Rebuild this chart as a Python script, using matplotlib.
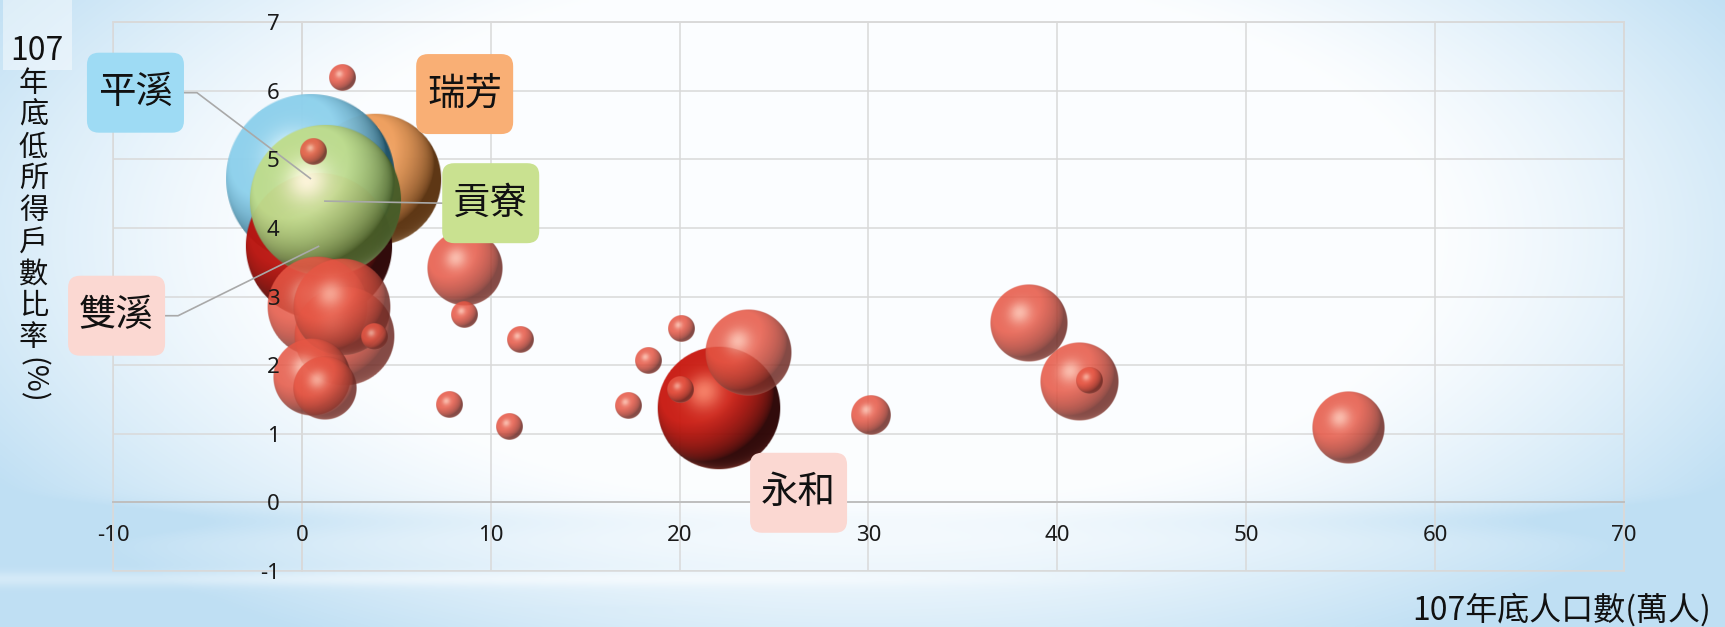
import numpy as np
import matplotlib
matplotlib.use('Agg')
import matplotlib.pyplot as plt
from matplotlib.patches import FancyBboxPatch, Rectangle

plt.rcParams['font.family'] = ['Noto Sans CJK TC', 'DejaVu Sans']
plt.rcParams['axes.unicode_minus'] = False

# ---------------- data ----------------
# highlighted districts (labelled bubbles)
hl_names = ['永和', '瑞芳', '平溪', '雙溪', '貢寮']
hl_pop = [22.06, 3.9, 0.45, 0.88, 1.22]          # 107年底人口數(萬人)
hl_ratio = [1.37, 4.70, 4.72, 3.73, 4.39]        # 低所得戶數比率(%)
hl_size = [38.4, 43.6, 73.1, 54.2, 57.8]         # bubble size

# other districts
other_pop = [2.24, 2.15, 0.53, 0.85, 1.22, 8.62, 23.64, 30.14, 38.5, 41.18, 55.4,
             2.17, 0.63, 3.86, 8.62, 11.57, 7.83, 11.0, 20.09, 18.36, 17.28, 20.03, 41.72]
other_ratio = [2.42, 2.85, 1.83, 2.86, 1.66, 3.41, 2.18, 1.28, 2.61, 1.755, 1.08,
               6.19, 5.11, 2.42, 2.73, 2.37, 1.43, 1.10, 2.53, 2.07, 1.41, 1.64, 1.77]
other_size = [25.0, 24.0, 15.2, 25.5, 10.2, 14.4, 18.5, 4.0, 15.2, 15.6, 13.0,
              1.8, 1.8, 1.8, 1.8, 1.8, 1.8, 1.8, 1.8, 1.8, 1.8, 1.8, 1.8]

x_ticks = [-10, 0, 10, 20, 30, 40, 50, 60, 70]
y_ticks = [-1, 0, 1, 2, 3, 4, 5, 6, 7]
x_title = '107年底人口數(萬人)'
y_title_num = '107'
y_title_chars = '年底低所得戶數比率'
y_title_unit = '(%)'

# ---------------- styles ----------------
hl_style = {
    '永和': dict(base=(200, 24, 15), dark=(40, 0, 0), light=(245, 120, 95), alpha=0.96),
    '瑞芳': dict(base=(238, 158, 92), dark=(90, 50, 15), light=(255, 222, 185), alpha=0.98),
    '平溪': dict(base=(140, 208, 236), dark=(25, 80, 105), light=(235, 250, 255), alpha=0.96),
    '雙溪': dict(base=(185, 18, 12), dark=(40, 0, 0), light=(240, 110, 90), alpha=0.96),
    '貢寮': dict(base=(190, 220, 140), dark=(70, 92, 40), light=(255, 252, 225), alpha=0.97),
}
other_style = dict(base=(230, 86, 68), dark=(112, 44, 38), light=(250, 176, 158), alpha=0.86)

box_color = {'永和': '#FBD8D2', '瑞芳': '#F9AF75', '平溪': '#9EDBF4',
             '雙溪': '#FBD8D2', '貢寮': '#C9E190'}
box_center = {'永和': (26.3, 0.14), '瑞芳': (8.62, 5.95), '平溪': (-8.81, 5.97),
              '雙溪': (-9.81, 2.72), '貢寮': (10.0, 4.36)}
grid_color = '#d9d9d9'

DPI = 100
fig = plt.figure(figsize=(17.25, 6.27), dpi=DPI)

# ---------------- background ----------------
bgax = fig.add_axes([0, 0, 1, 1], zorder=-10)
bgax.axis('off')
H, W = 314, 863
Y, X = np.mgrid[0:1:H * 1j, 0:1:W * 1j]
d = np.sqrt(((X - 0.5) / 0.56) ** 2 + ((Y - 0.38) / 0.72) ** 2)
inten = np.clip((d - 0.6) / 0.45, 0, 1) ** 1.2
edge = np.abs(X - 0.52) * 2
band = np.exp(-((Y - 0.83) / 0.025) ** 2) * (0.15 + 0.6 * edge ** 2)
bottom = np.clip((Y - 0.91) / 0.06, 0, 1) * (0.35 + 0.6 * edge)
streak = np.exp(-((Y - 0.925) / 0.012) ** 2) * np.clip((0.7 - X) / 0.5, 0, 1) * 0.35
inten = np.clip(np.maximum(inten, bottom) + band * 0.6 - streak, 0, 1)
white = np.array([0.985, 0.993, 1.0])
blue = np.array([0.75, 0.875, 0.955])
bg = white * (1 - inten[..., None]) + blue * inten[..., None]
bgax.imshow(bg, extent=(0, 1, 0, 1), aspect='auto', origin='upper', interpolation='bilinear')
bgax.set_xlim(0, 1)
bgax.set_ylim(0, 1)

# ---------------- main axes ----------------
ax = fig.add_axes([0.0655, 0.0893, 0.8759, 0.8756])
ax.set_facecolor('none')
ax.set_xlim(x_ticks[0], x_ticks[-1])
ax.set_ylim(y_ticks[0], y_ticks[-1])
ax.set_xticks(x_ticks)
ax.set_yticks(y_ticks)
for t in x_ticks:
    ax.axvline(t, color=grid_color, lw=1.1, zorder=0.3)
for t in y_ticks:
    ax.axhline(t, color=grid_color, lw=1.1, zorder=0.3)
for s in ['top', 'right', 'left']:
    ax.spines[s].set_color(grid_color)
    ax.spines[s].set_linewidth(1.1)
    ax.spines[s].set_zorder(0.4)
ax.spines['left'].set_position(('data', 0))
ax.spines['bottom'].set_position(('data', 0))
ax.spines['bottom'].set_color('#bfbfbf')
ax.spines['bottom'].set_linewidth(1.4)
ax.spines['bottom'].set_zorder(0.45)
ax.add_patch(Rectangle((0, 0), 1, 1, transform=ax.transAxes, fill=False,
                       ec=grid_color, lw=1.1, clip_on=False, zorder=0.4))
ax.tick_params(length=0, labelsize=16, colors='#1a1a1a', pad=16)
for lbl in ax.get_xticklabels() + ax.get_yticklabels():
    lbl.set_fontfamily(['Noto Sans', 'DejaVu Sans'])
ax.xaxis.set_zorder(40)
ax.yaxis.set_zorder(40)

# pixel scale of data units
p0 = ax.transData.transform((0, 0))
sx = ax.transData.transform((1, 0))[0] - p0[0]
sy = ax.transData.transform((0, 1))[1] - p0[1]


def sphere_img(base, dark, light, alpha, n=161):
    lin = np.linspace(-1, 1, n)
    u, v = np.meshgrid(lin, -lin)
    rr = np.sqrt(u * u + v * v)
    z = np.sqrt(np.clip(1 - rr * rr, 0, 1))
    L = np.array([-0.45, 0.5, 0.74]); L /= np.linalg.norm(L)
    ndl = np.clip(u * L[0] + v * L[1] + z * L[2], 0, 1)
    Hh = L + np.array([0, 0, 1.0]); Hh /= np.linalg.norm(Hh)
    ndh = np.clip(u * Hh[0] + v * Hh[1] + z * Hh[2], 0, 1)
    base, dark, light = [np.array(c) / 255.0 for c in (base, dark, light)]
    t = np.clip(ndl ** 0.7 / 0.8, 0, 1)
    col = dark + (base - dark) * t[..., None]
    spec = np.clip(ndh ** 25 * 0.85 + ndh ** 8 * 0.15, 0, 1)
    col = col + (light - col) * spec[..., None]
    rim = np.clip(-v, 0, 1) ** 2 * (1 - z) ** 3 * 0.5
    col = col + (light - col) * rim[..., None]
    a = alpha * np.clip((1 - rr) * n / 2.0, 0, 1)
    return np.dstack([np.clip(col, 0, 1), a])


def draw_bubble(x, y, size, style, z):
    r = 10 * np.sqrt(size)  # radius in pixels
    rx, ry = r / sx, r / sy
    ax.imshow(sphere_img(**style), extent=(x - rx, x + rx, y - ry, y + ry),
              origin='upper', interpolation='bilinear', aspect='auto', zorder=z)


zc = 1.0
for name, x, y, s in zip(hl_names, hl_pop, hl_ratio, hl_size):
    draw_bubble(x, y, s, hl_style[name], zc)
    zc += 0.1
order = np.argsort(other_size, kind='stable')[::-1]
for i in order:
    draw_bubble(other_pop[i], other_ratio[i], other_size[i], other_style, zc)
    zc += 0.01

ax.set_xlim(x_ticks[0], x_ticks[-1])
ax.set_ylim(y_ticks[0], y_ticks[-1])

# ---------------- labels & leader lines ----------------
bw, bh, brad = 97 / sx, 80 / sy, 12
for name in hl_names:
    cx, cy = box_center[name]
    patch = FancyBboxPatch((cx - bw / 2, cy - bh / 2), bw, bh,
                           boxstyle=f'round,pad=0,rounding_size={brad / sx}',
                           mutation_aspect=sx / sy, fc=box_color[name], ec='none',
                           zorder=30, clip_on=False)
    ax.add_patch(patch)
    ax.text(cx, cy, name, ha='center', va='center', fontsize=27, color='#111111',
            zorder=31, clip_on=False)

lc = '#a9a9a9'
for name in ['平溪', '雙溪']:
    k = hl_names.index(name)
    cx, cy = box_center[name]
    xe = cx + bw / 2
    ax.plot([xe, xe + 13 / sx, hl_pop[k]], [cy, cy, hl_ratio[k]], color=lc, lw=1.2,
            zorder=29, clip_on=False)
k = hl_names.index('貢寮')
cx, cy = box_center['貢寮']
ax.plot([cx - bw / 2, hl_pop[k]], [cy, hl_ratio[k]], color=lc, lw=1.2, zorder=29)

# ---------------- titles ----------------
fig.text(1711 / 1725, 1 - 610 / 627, x_title, ha='right', va='center', fontsize=23,
         color='#111111')
fig.patches.append(Rectangle((3 / 1725, 1 - 70 / 627), 69 / 1725, 70 / 627,
                             transform=fig.transFigure, fc='white', alpha=0.45, ec='none'))
fig.text(37 / 1725, 1 - 51 / 627, y_title_num, ha='center', va='center', fontsize=23,
         color='#111111')
for i, ch in enumerate(y_title_chars):
    fig.text(33.5 / 1725, 1 - (84 + 31.75 * i) / 627, ch, ha='center', va='center',
             fontsize=21, color='#111111')
fig.text(32 / 1725, 1 - 380 / 627, y_title_unit, ha='center', va='center', rotation=270,
         fontsize=21, color='#111111')

fig.savefig('out.png', dpi=DPI)
